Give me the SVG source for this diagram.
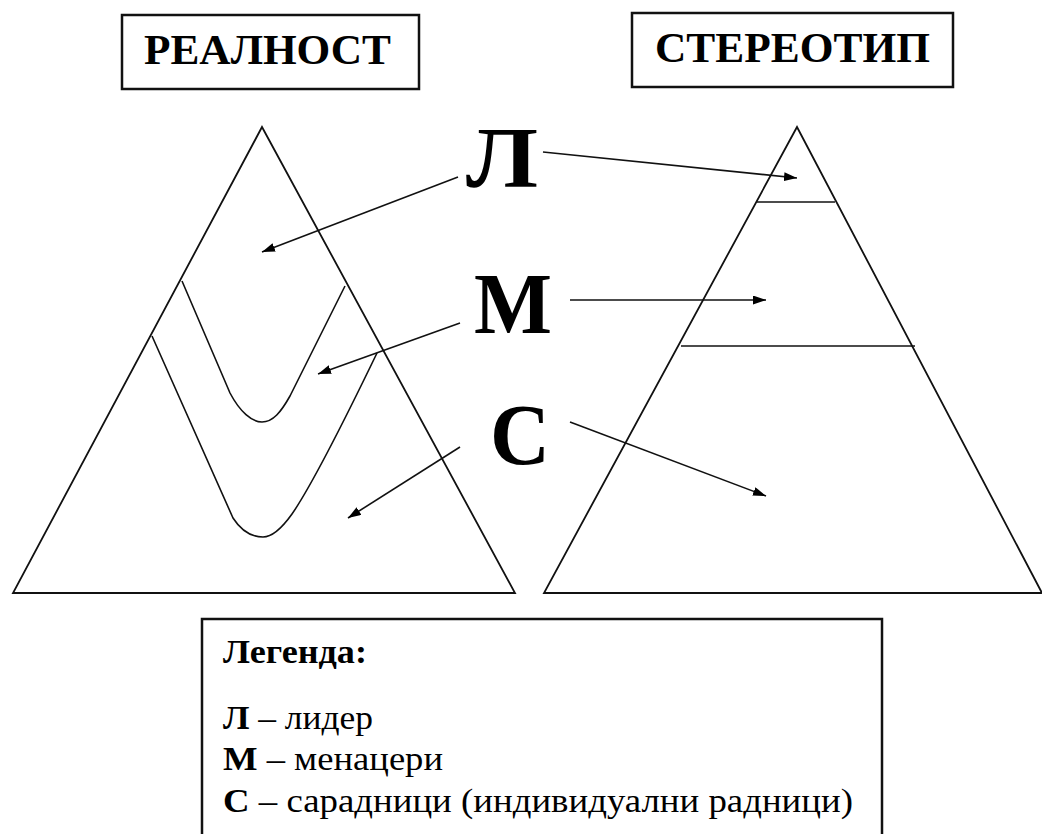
<svg xmlns="http://www.w3.org/2000/svg" width="1042" height="834" viewBox="0 0 1042 834">
  <style>
    .frame { fill: #fff; stroke: #111; stroke-width: 2.5; }
    .edge { fill: none; stroke: #111; stroke-width: 1.8; stroke-linejoin: miter; }
    .band { fill: none; stroke: #111; stroke-width: 1.6; stroke-linejoin: round; }
    .link { fill: none; stroke: #111; stroke-width: 1.6; marker-end: url(#head); }
    .serif { font-family: "Liberation Serif", "Times New Roman", serif; fill: #000; }
    .title { font-weight: bold; font-size: 42px; }
    .big { font-weight: bold; font-size: 86px; }
    .leg { font-size: 33px; }
    .b { font-weight: bold; }
  </style>
  <defs>
    <marker id="head" markerUnits="userSpaceOnUse" markerWidth="14" markerHeight="10" refX="13" refY="4.5" orient="auto">
      <path d="M0,0 L13,4.5 L0,9 Z" fill="#000"/>
    </marker>
  </defs>

  <rect width="1042" height="834" fill="#fff"/>

  <!-- title boxes -->
  <g id="title-reality">
    <rect class="frame" x="122" y="15" width="297" height="74"/>
    <text class="serif title" x="144" y="64" textLength="247" lengthAdjust="spacingAndGlyphs">РЕАЛНОСТ</text>
  </g>
  <g id="title-stereotype">
    <rect class="frame" x="632" y="13" width="321" height="74"/>
    <text class="serif title" x="655" y="62" textLength="275" lengthAdjust="spacingAndGlyphs">СТЕРЕОТИП</text>
  </g>

  <!-- left pyramid with wavy layers -->
  <g id="pyramid-reality">
    <path class="edge" d="M262,127 L515,593 L13,593 Z"/>
    <path class="band" d="M182,281 L230,393 C240,412 252,422 262,422 C273,422 281,412 290,396 L345,286"/>
    <path class="band" d="M152,336 L233,518 C242,532 253,537 263,537 C273,537 282,528 292,514 C310,488 335,440 377,353"/>
  </g>

  <!-- right pyramid with straight layers -->
  <g id="pyramid-stereotype">
    <path class="edge" d="M797,127 L1042,593 L544,593 Z"/>
    <line class="band" x1="757" y1="202" x2="835" y2="202"/>
    <line class="band" x1="681" y1="346" x2="915" y2="346"/>
  </g>

  <!-- level letters -->
  <g id="letter-L"><text class="serif big" x="466" y="187" textLength="72" lengthAdjust="spacingAndGlyphs">Л</text></g>
  <g id="letter-M"><text class="serif big" x="474" y="333" textLength="78" lengthAdjust="spacingAndGlyphs">М</text></g>
  <g id="letter-S"><text class="serif big" x="490" y="464" textLength="60" lengthAdjust="spacingAndGlyphs">С</text></g>

  <!-- arrows from letters to layers -->
  <g id="connectors">
    <line class="link" x1="458" y1="177" x2="262" y2="252"/>
    <line class="link" x1="460" y1="323" x2="318" y2="374"/>
    <line class="link" x1="460" y1="447" x2="348" y2="518"/>
    <line class="link" x1="543" y1="152" x2="797" y2="178"/>
    <line class="link" x1="570" y1="300" x2="766" y2="300"/>
    <line class="link" x1="570" y1="422" x2="766" y2="496"/>
  </g>

  <!-- legend -->
  <g id="legend">
    <rect class="frame" x="202" y="619" width="680" height="240" stroke-width="2"/>
    <text class="serif leg b" x="223" y="663" textLength="144" lengthAdjust="spacingAndGlyphs">Легенда:</text>
    <text class="serif leg" x="223" y="729" textLength="150" lengthAdjust="spacingAndGlyphs"><tspan class="b">Л</tspan> – лидер</text>
    <text class="serif leg" x="223" y="770" textLength="220" lengthAdjust="spacingAndGlyphs"><tspan class="b">М</tspan> – менацери</text>
    <text class="serif leg" x="223" y="812" textLength="630" lengthAdjust="spacingAndGlyphs"><tspan class="b">С</tspan> – сарадници (индивидуални радници)</text>
  </g>
</svg>
